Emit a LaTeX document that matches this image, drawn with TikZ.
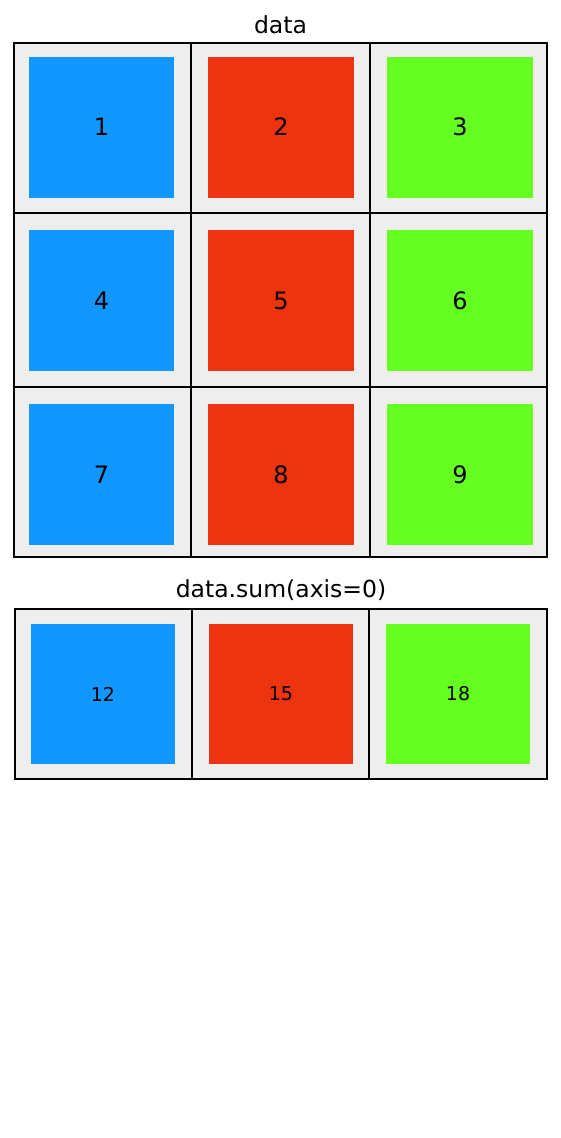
\documentclass[tikz,border=0pt]{standalone}
\usepackage{fontspec}
\setmainfont{DejaVu Sans}
\definecolor{cellbg}{HTML}{EEEEEE}
\definecolor{cblue}{HTML}{1296FF}
\definecolor{cred}{HTML}{EE3311}
\definecolor{cgreen}{HTML}{66FF22}
\begin{document}
\begin{tikzpicture}[x=1pt,y=-1pt,
  cellbox/.style={draw=black, line width=2pt, fill=cellbg, inner sep=0pt, rectangle},
  sqbox/.style={inner sep=0pt, rectangle, draw=none, text=black},
  bigtext/.style={font=\fontsize{24}{28}\selectfont},
  smalltext/.style={font=\fontsize{19}{22}\selectfont},
  title/.style={font=\fontsize{23.5}{28}\selectfont, inner sep=0pt}]
\useasboundingbox (0,0) rectangle (561,1138);
\fill[white] (0,0) rectangle (561,1138);
% top grid cells
\foreach \r/\y/\h in {1/128/170,2/300/174,3/472/170}{
  \foreach \c/\x/\w in {1/102.5/177,2/280.5/179,3/458.5/177}{
    \node[cellbox, minimum width=\w pt, minimum height=\h pt] (c\r\c) at (\x,\y) {};
  }
}
% top grid coloured squares
\foreach \r/\y in {1/127,2/300.5,3/474.5}{
  \foreach \c/\x/\col in {1/101.5/cblue,2/281/cred,3/460/cgreen}{
    \pgfmathtruncatemacro{\n}{(\r-1)*3+\c}
    \node[sqbox, fill=\col, minimum width=145.5pt, minimum height=141pt, bigtext] (s\r\c) at (\x,\y) {\n};
  }
}
\node[title] (t1) at (280.5,25) {data};
% bottom grid
\foreach \c/\x/\w in {1/103.5/177,2/280.5/177,3/458/178}{
  \node[cellbox, minimum width=\w pt, minimum height=170pt] (b\c) at (\x,694) {};
}
\foreach \c/\x/\col/\n in {1/103/cblue/12,2/281/cred/15,3/458/cgreen/18}{
  \node[sqbox, fill=\col, minimum width=144pt, minimum height=140pt, smalltext] (q\c) at (\x,694) {\n};
}
\node[title] (t2) at (281,590) {data.sum(axis=0)};
\end{tikzpicture}
\end{document}
